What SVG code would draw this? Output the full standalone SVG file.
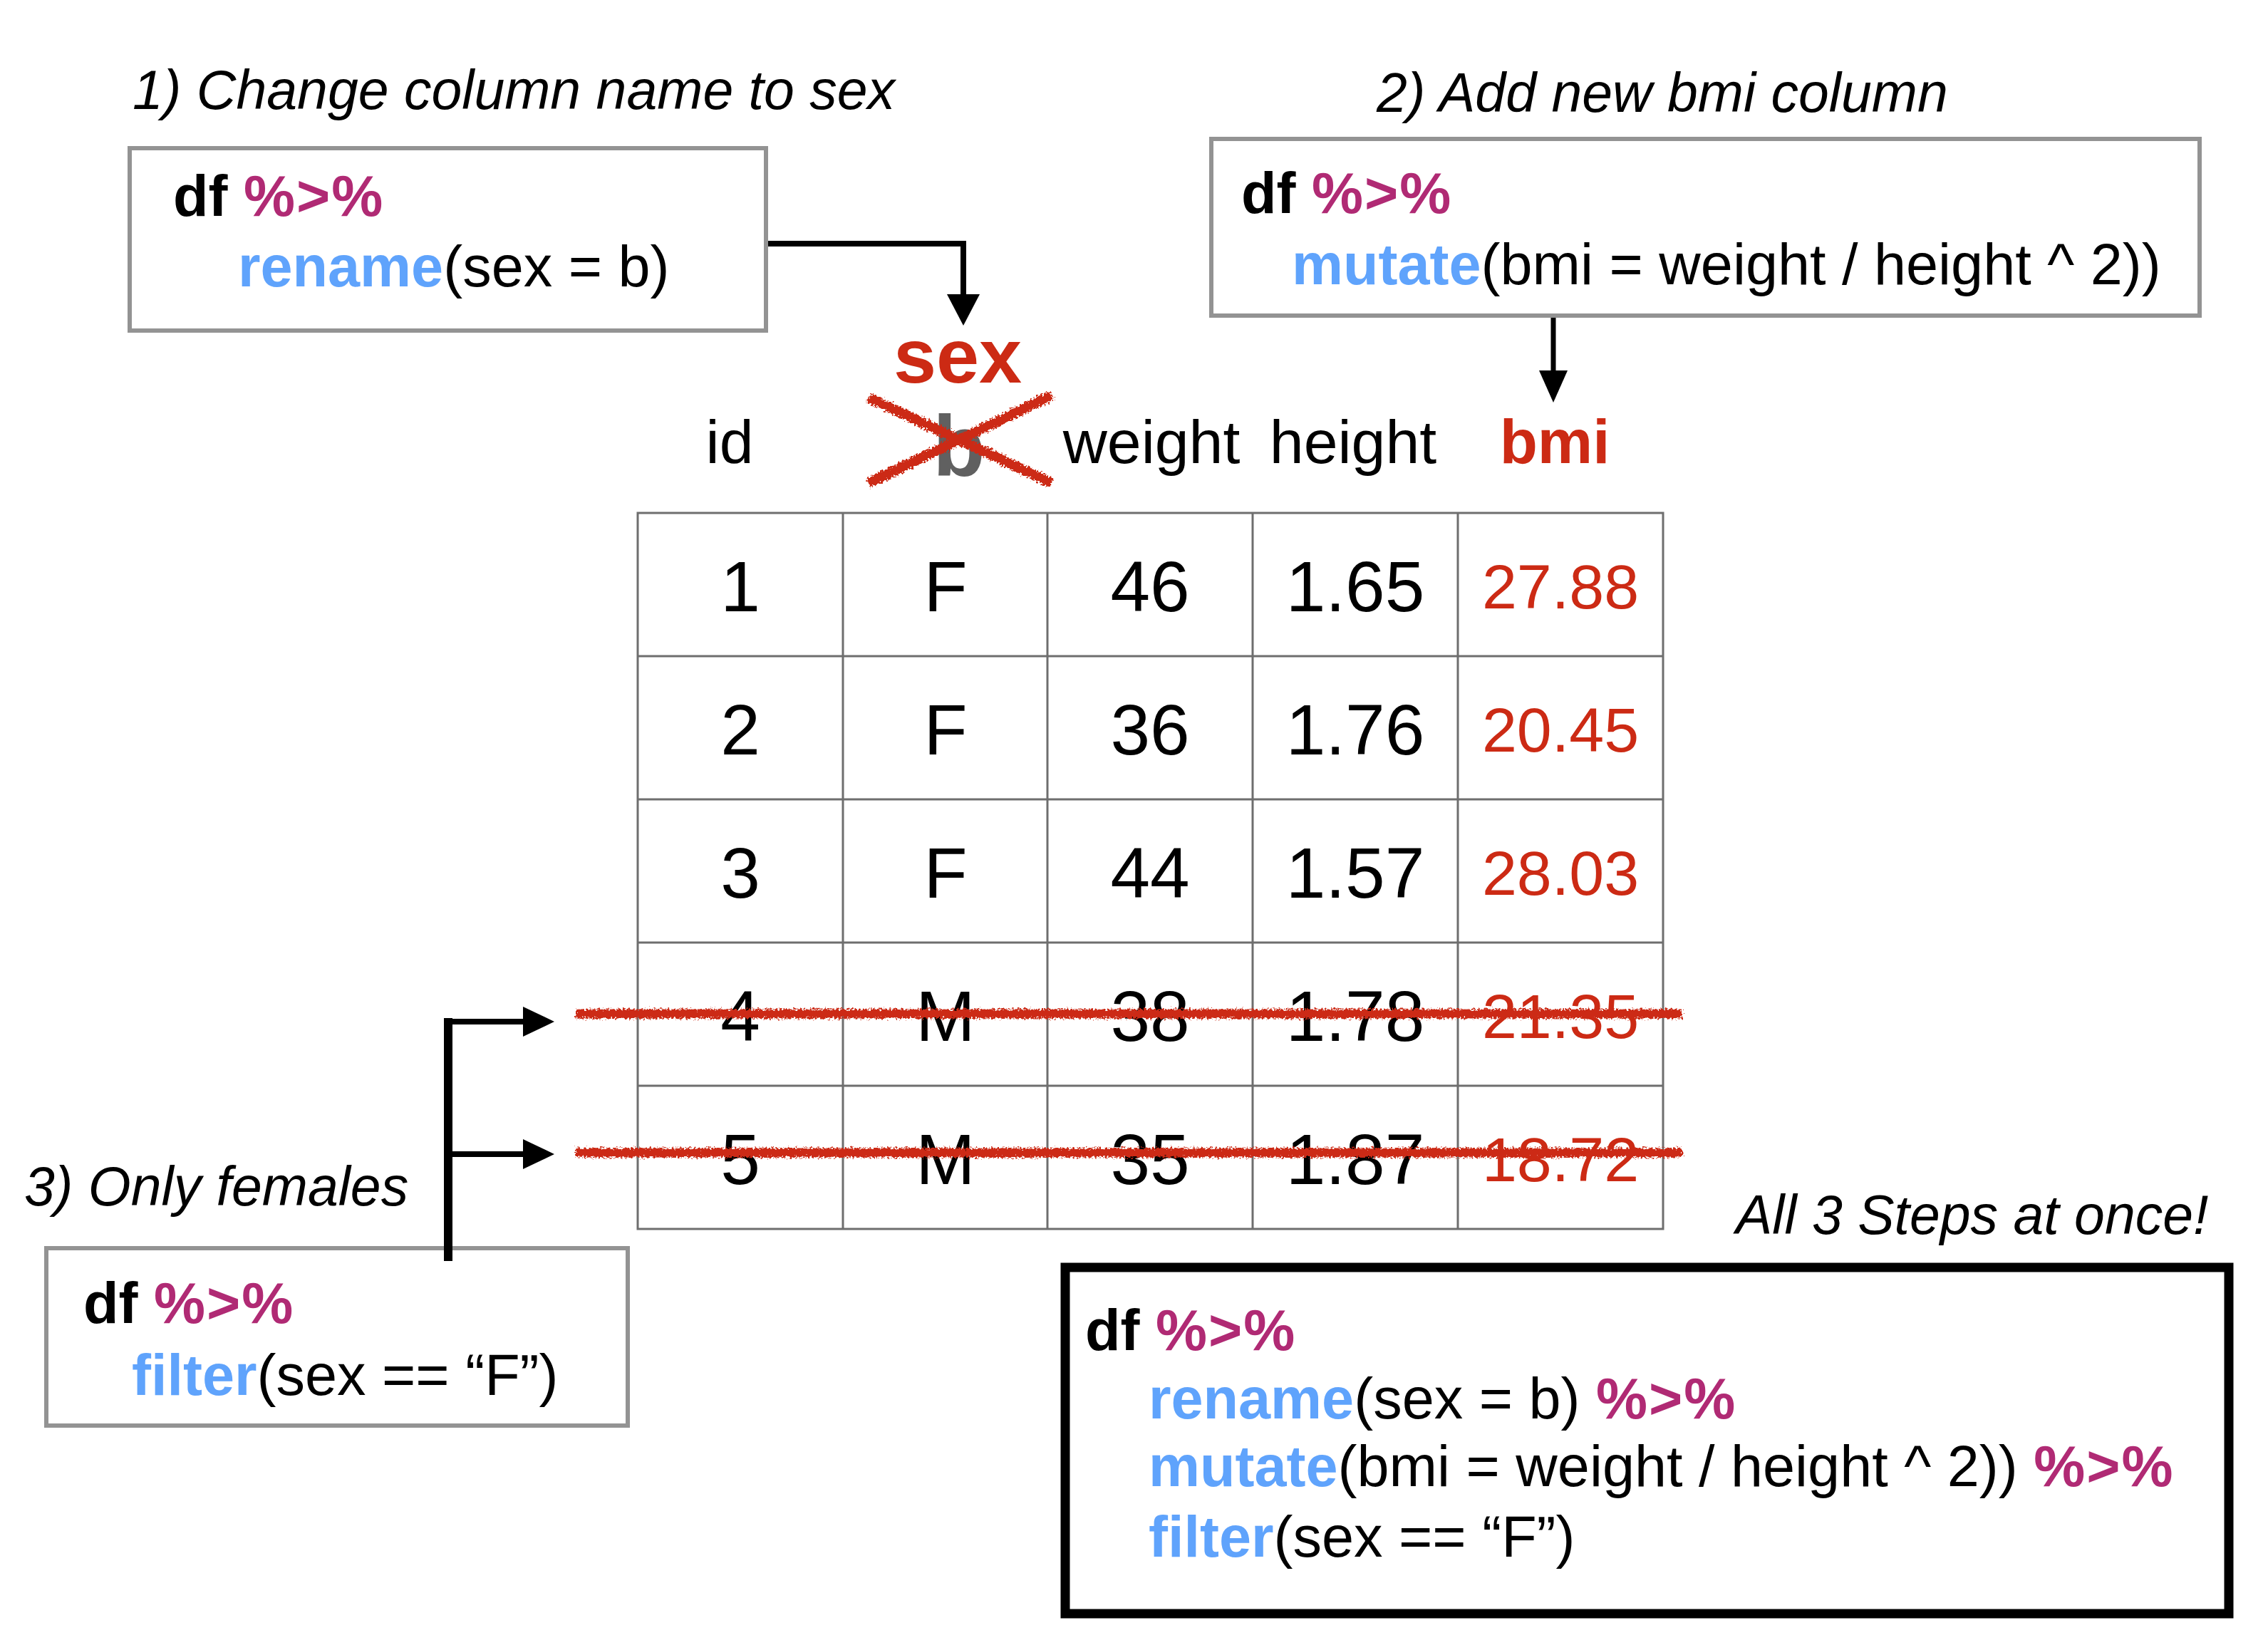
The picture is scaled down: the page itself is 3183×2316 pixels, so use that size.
<svg xmlns="http://www.w3.org/2000/svg" width="3183" height="2316" viewBox="0 0 3183 2316">
<style>
  text { font-family: "Liberation Sans", Arial, Helvetica, sans-serif; }
  .title { font-size: 77px; font-style: italic; fill: #000; }
  .code { font-size: 81px; fill: #000; }
  .b { font-weight: bold; }
  .pipe { fill: #b02a74; font-weight: bold; letter-spacing: 2px; }
  .fn { fill: #5fa3fc; font-weight: bold; }
  .box { fill: #fff; stroke: #939393; stroke-width: 6; }
  .grid { fill: none; stroke: #6e6e6e; stroke-width: 3; }
  .hdr { font-size: 86px; text-anchor: middle; fill: #000; }
  .hdrred { font-size: 87px; text-anchor: middle; fill: #cc2a14; font-weight: bold; }
  .num { font-size: 100px; text-anchor: middle; fill: #000; }
  .red { font-size: 88px; text-anchor: middle; fill: #cc2a14; }
  .conn { fill: none; stroke: #000; }
  .strike { stroke: #cc2a14; fill: none; stroke-linecap: butt; }
</style>
<defs>
  <filter id="rough" filterUnits="userSpaceOnUse" x="0" y="0" width="3183" height="2316">
    <feTurbulence type="fractalNoise" baseFrequency="0.35" numOctaves="2" seed="4" result="n"/>
    <feDisplacementMap in="SourceGraphic" in2="n" scale="11" xChannelSelector="R" yChannelSelector="G"/>
  </filter>
</defs>

<rect width="3183" height="2316" fill="#fff"/>

<!-- Titles -->
<text class="title" x="186" y="153">1) Change column name to sex</text>
<text class="title" x="1932" y="157">2) Add new bmi column</text>
<text class="title" x="34" y="1692">3) Only females</text>
<text class="title" x="2436" y="1732">All 3 Steps at once!</text>

<!-- Box 1: rename -->
<g id="node-rename">
  <rect class="box" x="182" y="208" width="893" height="256"/>
  <text class="code" x="243" y="303"><tspan class="b">df</tspan> <tspan class="pipe">%&gt;%</tspan></text>
  <text class="code" x="334" y="402"><tspan class="fn">rename</tspan>(sex = b)</text>
</g>

<!-- Box 2: mutate -->
<g id="node-mutate">
  <rect class="box" x="1700" y="195" width="1387" height="248"/>
  <text class="code" x="1742" y="299"><tspan class="b">df</tspan> <tspan class="pipe">%&gt;%</tspan></text>
  <text class="code" x="1813" y="399"><tspan class="fn">mutate</tspan>(bmi = weight / height ^ 2))</text>
</g>

<!-- Box 3: filter -->
<g id="node-filter">
  <rect class="box" x="65" y="1752" width="816" height="249"/>
  <text class="code" x="117" y="1857"><tspan class="b">df</tspan> <tspan class="pipe">%&gt;%</tspan></text>
  <text class="code" x="185" y="1958"><tspan class="fn">filter</tspan>(sex == “F”)</text>
</g>

<!-- Box 4: all steps -->
<g id="node-all">
  <rect x="1495" y="1779" width="1633" height="486" fill="#fff" stroke="#000" stroke-width="13"/>
  <text class="code" x="1523" y="1895"><tspan class="b">df</tspan> <tspan class="pipe">%&gt;%</tspan></text>
  <text class="code" x="1612" y="1991"><tspan class="fn">rename</tspan>(sex = b) <tspan class="pipe">%&gt;%</tspan></text>
  <text class="code" x="1612" y="2086"><tspan class="fn">mutate</tspan>(bmi = weight / height ^ 2)) <tspan class="pipe">%&gt;%</tspan></text>
  <text class="code" x="1612" y="2185"><tspan class="fn">filter</tspan>(sex == “F”)</text>
</g>

<!-- Table -->
<g id="node-table">
  <text class="hdr" x="1024" y="650">id</text>
  <text x="1346" y="668" style="font-size:120px;font-weight:bold;fill:#606060;text-anchor:middle">b</text>
  <text x="1344" y="537" style="font-size:108px;font-weight:bold;fill:#cc2a14;text-anchor:middle">sex</text>
  <text class="hdr" x="1616" y="650">weight</text>
  <text class="hdr" x="1899" y="650">height</text>
  <text class="hdrred" x="2182" y="650">bmi</text>

  <rect class="grid" x="895" y="720" width="1439" height="1005"/>
  <path class="grid" d="M1183 720V1725M1470 720V1725M1758 720V1725M2046 720V1725M895 921H2334M895 1122H2334M895 1323H2334M895 1524H2334"/>

  <text class="num" x="1039" y="858">1</text>
  <text class="num" x="1327" y="858">F</text>
  <text class="num" x="1614" y="858">46</text>
  <text class="num" x="1902" y="858">1.65</text>
  <text class="red" x="2190" y="854">27.88</text>

  <text class="num" x="1039" y="1059">2</text>
  <text class="num" x="1327" y="1059">F</text>
  <text class="num" x="1614" y="1059">36</text>
  <text class="num" x="1902" y="1059">1.76</text>
  <text class="red" x="2190" y="1055">20.45</text>

  <text class="num" x="1039" y="1260">3</text>
  <text class="num" x="1327" y="1260">F</text>
  <text class="num" x="1614" y="1260">44</text>
  <text class="num" x="1902" y="1260">1.57</text>
  <text class="red" x="2190" y="1256">28.03</text>

  <text class="num" x="1039" y="1461">4</text>
  <text class="num" x="1327" y="1461">M</text>
  <text class="num" x="1614" y="1461">38</text>
  <text class="num" x="1902" y="1461">1.78</text>
  <text class="red" x="2190" y="1457">21.35</text>

  <text class="num" x="1039" y="1662">5</text>
  <text class="num" x="1327" y="1662">M</text>
  <text class="num" x="1614" y="1662">35</text>
  <text class="num" x="1902" y="1662">1.87</text>
  <text class="red" x="2190" y="1658">18.72</text>

  <g filter="url(#rough)">
    <line class="strike" x1="1219" y1="558" x2="1476" y2="678" stroke-width="14"/>
    <line class="strike" x1="1219" y1="678" x2="1476" y2="555" stroke-width="14"/>
    <line class="strike" x1="808" y1="1423" x2="2361" y2="1423" stroke-width="13"/>
    <line class="strike" x1="808" y1="1618" x2="2361" y2="1618" stroke-width="13"/>
  </g>
</g>

<!-- Connectors -->
<g id="connectors">
  <polyline class="conn" points="1078,342 1352,342 1352,415" stroke-width="8"/>
  <polygon points="1329,413 1375,413 1352,457" fill="#000"/>

  <line class="conn" x1="2180" y1="446" x2="2180" y2="522" stroke-width="7"/>
  <polygon points="2160,520 2200,520 2180,565" fill="#000"/>

  <line class="conn" x1="629" y1="1429" x2="629" y2="1770" stroke-width="12"/>
  <line class="conn" x1="635" y1="1434" x2="736" y2="1434" stroke-width="8"/>
  <polygon points="734,1413 734,1455 778,1434" fill="#000"/>
  <line class="conn" x1="635" y1="1620" x2="736" y2="1620" stroke-width="8"/>
  <polygon points="734,1599 734,1641 778,1620" fill="#000"/>
</g>
</svg>
